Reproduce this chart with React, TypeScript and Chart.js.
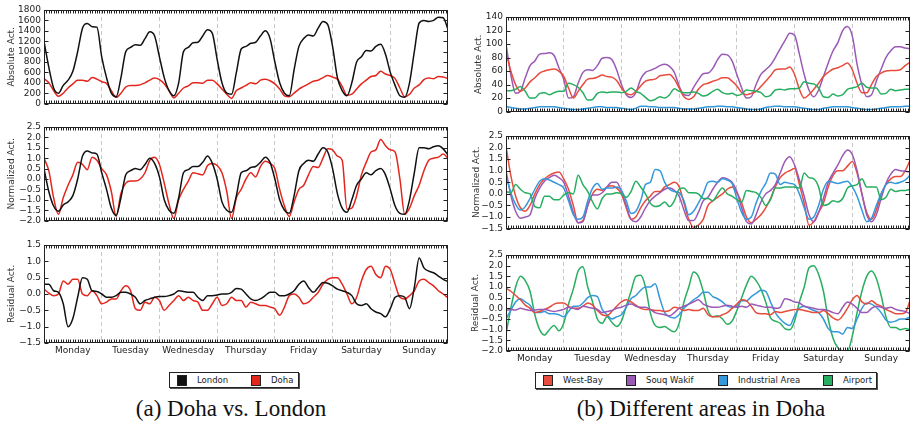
import React, { useEffect, useRef } from "react";
import { Chart, registerables } from "chart.js";

Chart.register(...registerables);

// ---------- labels / ticks ----------
const DAYS = ["Monday", "Tuesday", "Wednesday", "Thursday", "Friday", "Saturday", "Sunday"];
const ABS_LEFT_TICKS = [0, 200, 400, 600, 800, 1000, 1200, 1400, 1600, 1800];
const NORM_LEFT_TICKS = [-2, -1.5, -1, -0.5, 0, 0.5, 1, 1.5, 2, 2.5];
const RES_LEFT_TICKS = [-1.5, -1, -0.5, 0, 0.5, 1, 1.5];
const ABS_RIGHT_TICKS = [0, 20, 40, 60, 80, 100, 120, 140];
const NORM_RIGHT_TICKS = [-1.5, -1, -0.5, 0, 0.5, 1, 1.5, 2, 2.5];
const RES_RIGHT_TICKS = [-2, -1.5, -1, -0.5, 0, 0.5, 1, 1.5, 2, 2.5];

// ---------- data (2-hour steps, 7 days) ----------
const londonAbs = [
  1200, 700, 300, 200, 350, 450, 620, 1000, 1450, 1540, 1480, 1470,
  900, 500, 200, 130, 500, 1000, 1080, 1130, 1120, 1250, 1380, 1300,
  900, 500, 250, 150, 400, 1000, 1080, 1170, 1180, 1300, 1420, 1350,
  850, 400, 200, 180, 600, 1050, 1100, 1160, 1180, 1300, 1400, 1250,
  800, 400, 200, 150, 650, 1100, 1250, 1320, 1300, 1450, 1580, 1520,
  1100, 500, 250, 150, 400, 800, 900, 1020, 1010, 1100, 1140, 950,
  600, 350, 150, 120, 400, 1000, 1550, 1600, 1580, 1600, 1660, 1650, 1430,
];
const dohaAbs = [
  480, 400, 250, 140, 200, 300, 380, 450, 450, 430, 500, 470,
  420, 390, 250, 120, 200, 320, 350, 350, 360, 400, 450, 490,
  460, 380, 250, 110, 200, 300, 340, 400, 400, 390, 450, 450,
  380, 280, 180, 100, 250, 300, 350, 400, 380, 450, 470, 440,
  380, 280, 150, 130, 200, 280, 330, 380, 430, 450, 500, 540,
  510, 470, 330, 160, 180, 280, 380, 450, 520, 540, 620, 570,
  540, 480, 300, 130, 180, 300, 360, 460, 490, 480, 520, 510, 480,
];
const londonNorm = [
  0.5, -0.6, -1.3, -1.55, -1.25, -1.1, -0.8, 0.0, 1.1, 1.35, 1.25, 1.2,
  0.3, -0.5, -1.4, -1.75, -0.9, 0.2, 0.4, 0.5, 0.45, 0.7, 1.0, 0.75,
  0.1, -1.0, -1.5, -1.65, -0.9, 0.3, 0.45, 0.6, 0.6, 0.8, 1.1, 0.75,
  0.0, -1.1, -1.5, -1.6, -0.8, 0.3, 0.4, 0.55, 0.6, 0.8, 1.05, 0.8,
  0.0, -1.0, -1.5, -1.65, -0.8, 0.4, 0.75, 0.9, 0.85, 1.2, 1.5, 1.3,
  0.5, -0.7, -1.4, -1.6, -1.0, -0.3, 0.0, 0.3, 0.2, 0.4, 0.5, 0.2,
  -0.5, -1.3, -1.65, -1.7, -1.0, 0.3, 1.5, 1.5, 1.45, 1.55, 1.6, 1.45, 1.15,
];
const dohaNorm = [
  1.0, 0.4, -0.9, -1.7, -0.9, -0.3, 0.2, 0.8, 0.7, 0.45, 1.05, 0.9,
  0.5, 0.2, -0.6, -1.8, -0.7, -0.2, -0.1, -0.1, 0.0, 0.3, 0.9, 1.05,
  0.7, -0.2, -1.2, -1.9, -1.0, -0.5, -0.1, 0.3, 0.25, 0.2, 0.65, 0.75,
  0.65, 0.3, -0.6, -1.9, -0.9, -0.5, 0.0, 0.3, 0.1, 0.6, 0.85, 0.75,
  0.5, -0.5, -1.3, -1.8, -1.1, -0.5, -0.3, 0.2, 0.6, 0.55, 1.0, 1.45,
  1.4, 1.1, 0.9, -1.45, -1.4, -0.8, 0.2, 0.8, 1.3, 1.4, 1.9, 1.6,
  1.4, 1.3, 0.0, -1.7, -1.4, -0.8, -0.3, 0.4, 0.9, 1.0, 1.05, 1.2, 1.0,
];
const londonRes = [
  0.3, 0.3, 0.1, 0.05, -0.3, -1.0, -0.75, -0.1, 0.5, 0.45, 0.1, 0.08,
  0.0, -0.1, -0.1, -0.05, 0.05, 0.05, 0.0, -0.1, -0.3, -0.2, -0.15, -0.1,
  -0.08, -0.08, -0.05, 0.0, 0.1, 0.08, 0.05, 0.05, -0.1, -0.2, -0.05, -0.05,
  -0.03, 0.0, 0.0, 0.05, 0.17, 0.15, 0.0, -0.15, -0.2, -0.15, -0.05, 0.05,
  0.05, -0.05, -0.05, 0.0, 0.1, 0.3, 0.4, 0.2, 0.05, 0.2, 0.35, 0.33,
  0.25, 0.15, 0.1, 0.05, -0.05, -0.3, -0.35, -0.3, -0.45, -0.55, -0.6, -0.7,
  -0.45, -0.1, -0.05, -0.1, -0.45, 0.2, 1.1, 0.8, 0.7, 0.65, 0.55, 0.45, 0.38,
];
const dohaRes = [
  0.15, 0.03, -0.05, 0.0, 0.4, 0.3, 0.45, 0.45, 0.0, -0.05, 0.1, -0.05,
  -0.3, -0.25, -0.15, -0.15, 0.1, 0.25, 0.1, -0.45, -0.5, -0.25, -0.3, -0.1,
  -0.2, -0.5, -0.35, -0.2, -0.05, -0.2, -0.1, -0.2, -0.25, -0.5, -0.5, -0.3,
  -0.1, -0.35, -0.3, -0.1, -0.2, -0.2, -0.4, -0.25, -0.3, -0.35, -0.35, -0.4,
  -0.45, -0.65, -0.4, -0.05, 0.0, -0.1, -0.3, -0.25, -0.1, 0.05, 0.3, 0.45,
  0.5, 0.5, 0.3, 0.0, -0.3, -0.1, 0.4, 0.75, 0.85, 0.6, 0.5, 0.85,
  0.75, 0.3, -0.1, -0.15, -0.05, 0.1, 0.4, 0.45, 0.35, 0.25, 0.1, 0.0, -0.12,
];

const westBayAbs = [
  88, 60, 40, 30, 35, 44, 50, 57, 60, 62, 63, 60,
  52, 35, 20, 30, 40, 48, 49, 51, 54, 52, 51, 46,
  35, 27, 25, 30, 38, 45, 47, 48, 53, 54, 55, 48,
  35, 22, 18, 22, 33, 40, 42, 45, 47, 50, 50, 45,
  38, 28, 25, 27, 30, 37, 45, 53, 62, 63, 63, 66,
  55, 33, 20, 25, 33, 42, 52, 58, 63, 65, 68, 72,
  62, 42, 28, 28, 40, 52, 57, 60, 61, 61, 62, 68, 73,
];
const souqAbs = [
  100, 55, 27, 30, 50, 68, 75, 85, 86, 87, 83, 65,
  48, 20, 22, 42, 58, 62, 61, 68, 79, 80, 77, 62,
  40, 25, 21, 28, 48, 58, 61, 64, 68, 70, 67, 58,
  38, 25, 24, 36, 47, 56, 57, 64, 77, 85, 84, 75,
  55, 35, 20, 22, 40, 55, 62, 69, 80, 93, 105, 116,
  113, 85, 55, 32, 22, 32, 52, 72, 90, 102, 120, 126,
  112, 70, 40, 22, 25, 45, 63, 80, 90, 96, 96, 94, 93,
];
const industrialAbs = [
  8, 6, 5, 4, 4, 5, 6, 7, 7, 7, 7, 6,
  5, 4, 3, 3, 4, 5, 6, 7, 7, 6, 6, 6,
  5, 4, 3, 5, 8, 8, 7, 7, 6, 6, 6, 6,
  5, 4, 4, 4, 5, 6, 7, 7, 8, 8, 7, 7,
  6, 5, 4, 3, 3, 4, 6, 7, 8, 8, 7, 7,
  7, 6, 5, 4, 3, 3, 5, 6, 7, 7, 7, 7,
  6, 5, 4, 3, 3, 4, 5, 6, 7, 7, 7, 8, 8,
];
const airportAbs = [
  31, 31, 33, 37, 30, 20, 20, 27, 28, 25, 28, 30,
  30, 42, 40, 36, 28, 17, 18, 27, 29, 28, 29, 29,
  28, 30, 35, 30, 27, 21, 16, 18, 22, 20, 25, 34,
  30, 28, 28, 29, 27, 23, 25, 30, 33, 28, 26, 27,
  24, 26, 32, 31, 30, 28, 22, 24, 32, 33, 32, 34,
  34, 35, 44, 42, 41, 35, 22, 21, 26, 23, 25, 33,
  35, 37, 42, 36, 35, 35, 26, 27, 33, 31, 32, 33, 33,
];

const westBayNorm = [
  2.05, 0.8, -0.1, -0.6, -0.75, -0.5, 0.0, 0.4, 0.65, 0.8, 0.9, 0.95,
  0.65, 0.2, -0.5, -1.25, -1.15, -0.5, 0.0, 0.2, 0.15, 0.3, 0.35, 0.25,
  0.0, -0.6, -1.1, -1.0, -0.6, -0.3, -0.1, 0.1, 0.1, 0.3, 0.4, 0.5,
  0.3, -0.4, -1.1, -1.45, -1.35, -1.1, -0.5, -0.3, -0.15, 0.0, 0.2, 0.3,
  0.05, -0.4, -1.0, -1.25, -1.1, -0.9, -0.6, -0.2, 0.3, 0.7, 0.9, 1.0,
  1.1, 0.4, -0.4, -1.35, -1.2, -0.8, -0.4, 0.3, 0.8, 1.0, 1.0, 1.2,
  1.4, 0.9, 0.0, -0.8, -1.1, -0.7, 0.0, 0.4, 0.65, 0.75, 0.75, 1.0, 1.45,
];
const souqNorm = [
  1.0, -0.05, -0.75, -1.05, -1.0, -0.9, -0.2, 0.25, 0.55, 0.7, 0.8, 0.7,
  0.5, -0.1, -0.8, -1.25, -1.2, -0.5, -0.05, -0.05, 0.05, 0.3, 0.5, 0.5,
  0.1, -0.5, -1.1, -1.2, -1.0, -0.6, -0.3, -0.1, 0.05, 0.2, 0.25, 0.15,
  -0.1, -0.7, -1.15, -1.15, -0.8, -0.3, -0.15, 0.2, 0.5, 0.7, 0.65, 0.5,
  0.1, -0.6, -1.2, -1.3, -0.9, -0.35, 0.0, 0.15, 0.4, 0.9, 1.4, 1.6,
  1.25, 0.6, -0.1, -0.9, -1.2, -0.8, -0.2, 0.5, 0.9, 1.25, 1.65, 1.9,
  1.7, 1.0, 0.0, -0.9, -1.2, -0.9, -0.2, 0.45, 0.85, 1.05, 1.0, 0.98, 0.95,
];
const industrialNorm = [
  0.8, 0.05, -0.45, -0.7, -0.55, -0.2, 0.2, 0.55, 0.65, 0.6, 0.5, 0.4,
  0.25, -0.3, -0.9, -1.1, -1.0, -0.3, 0.25, 0.45, 0.2, 0.25, 0.25, 0.3,
  0.15, -0.3, -0.85, -0.75, -0.3, 0.4, 0.5, 1.05, 1.0, 0.5, 0.2, 0.1,
  0.05, -0.3, -0.9, -0.75, -0.4, 0.0, 0.5, 0.55, 0.5, 0.65, 0.6, 0.45,
  -0.2, -0.8, -1.1, -1.0, -0.4, 0.1, 0.45, 0.9, 0.85, 0.4, 0.5, 0.45,
  0.4, 0.0, -0.6, -1.1, -1.0, -0.5, 0.2, 0.55, 0.5, 0.45, 0.5, 0.55,
  0.3, -0.1, -0.7, -1.2, -1.05, -0.5, 0.0, 0.4, 0.5, 0.45, 0.5, 0.6, 0.8,
];
const airportNorm = [
  0.1, 0.05, 0.4, 0.2, 0.05, 0.0, -0.55, -0.6, -0.1, -0.1, -0.25, -0.25,
  -0.05, 0.05, 0.0, 0.8, 0.4, 0.1, -0.35, -0.65, -0.2, 0.0, 0.0, 0.05,
  0.0, -0.15, 0.1, 0.55, 0.3, 0.0, -0.4, -0.55, -0.5, -0.35, -0.55, -0.3,
  0.2, 0.25, 0.05, 0.05, 0.0, -0.2, -0.2, -0.3, 0.0, 0.25, 0.0, -0.1,
  -0.25, -0.35, 0.15, 0.1, 0.05, -0.15, -0.5, -0.25, 0.25, 0.25, 0.3, 0.3,
  0.3, 0.25, 0.9, 0.7, 0.65, 0.3, -0.5, -0.45, -0.3, -0.35, -0.2, 0.25,
  0.35, 0.4, 0.65, 0.3, 0.3, 0.3, -0.25, -0.15, 0.2, 0.1, 0.15, 0.15, 0.2,
];

const westBayRes = [
  0.95, 0.8, 0.6, 0.4, 0.15, 0.0, -0.2, -0.15, -0.05, 0.05, 0.2, 0.25,
  0.25, 0.1, 0.0, 0.0, 0.1, 0.25, 0.15, -0.1, -0.3, -0.35, -0.15, 0.1,
  0.3, 0.4, 0.3, 0.15, 0.0, -0.05, -0.05, -0.1, -0.1, -0.15, -0.1, 0.05,
  0.0, -0.1, -0.05, -0.1, -0.1, 0.0, -0.3, -0.4, -0.4, -0.3, -0.2, 0.0,
  0.2, 0.4, 0.35, 0.1, -0.2, -0.25, -0.25, -0.3, -0.15, -0.2, -0.15, -0.1,
  -0.05, -0.05, -0.1, -0.15, -0.2, -0.2, -0.1, -0.25, -0.45, -0.55, -0.35, 0.0,
  0.4, 0.6, 0.3, 0.2, 0.35, 0.2, 0.1, -0.05, -0.15, -0.25, -0.25, -0.2, 0.35,
];
const souqRes = [
  -0.1, -0.05, -0.08, 0.0, -0.05, -0.1, -0.08, -0.05, -0.05, -0.1, -0.15, -0.1,
  -0.05, 0.05, 0.0, -0.05, 0.1, 0.05, 0.0, -0.05, -0.2, -0.15, -0.1, 0.0,
  0.05, 0.15, 0.2, 0.1, 0.05, 0.05, -0.05, -0.2, -0.25, -0.3, -0.35, -0.2,
  0.0, 0.1, 0.2, 0.3, 0.4, 0.2, 0.1, 0.05, 0.05, 0.1, 0.15, 0.1,
  0.05, 0.1, 0.05, 0.2, 0.15, 0.1, 0.05, 0.05, 0.0, 0.05, 0.45, 0.4,
  0.3, 0.25, 0.1, 0.05, 0.0, -0.05, -0.05, -0.1, -0.2, -0.25, 0.05, 0.3,
  0.2, 0.0, -0.2, -0.2, 0.0, 0.1, 0.05, 0.0, 0.05, -0.05, -0.1, -0.15, -0.25,
];
const industrialRes = [
  -0.5, -0.1, 0.3, 0.45, 0.3, 0.15, -0.2, -0.2, -0.15, -0.25, -0.25, -0.3,
  -0.4, -0.15, 0.1, 0.1, 0.25, 0.5, 0.6, 0.55, -0.05, -0.3, -0.5, -0.4,
  -0.3, 0.05, 0.45, 0.6, 0.85, 1.0, 1.0, 1.15, 0.45, -0.2, -0.4, -0.45,
  -0.3, 0.0, 0.2, 0.4, 0.55, 0.75, 0.75, 0.55, 0.45, 0.3, 0.1, 0.05,
  0.1, 0.35, 0.35, 0.55, 0.7, 0.85, 0.8, 0.3, -0.2, -0.5, -0.7, -0.8,
  -0.35, 0.0, 0.1, 0.0, -0.1, -0.2, -0.5, -0.95, -1.1, -1.1, -1.2, -0.9,
  -0.95, -0.5, 0.0, 0.25, 0.2, 0.05, -0.2, -0.55, -0.65, -0.6, -0.5, -0.5, -0.4,
];
const airportRes = [
  -1.2, 0.0, 1.0, 1.5, 1.3, 0.8, -0.3, -1.0, -1.25, -1.0, -0.8, -1.05,
  -0.7, 0.2, 0.9, 1.75, 1.95, 1.0, 0.3, -0.5, -0.7, -0.4, -0.65, -0.85,
  -0.6, 0.1, 0.8, 1.5, 1.55, 1.0, -0.2, -0.8, -0.9, -0.85, -1.0, -1.1,
  -0.7, 0.3, 1.0, 1.7, 1.5, 0.8, -0.1, -0.4, -0.35, -0.5, -0.75, -0.6,
  -0.1, 0.5, 1.1, 1.5, 1.3, 0.9, 0.3, -0.45, -0.6, -0.7, -0.95, -1.0,
  -0.6, 0.3, 1.0, 1.9, 2.0, 1.6, 0.8, -0.5, -1.4, -1.85, -2.0, -2.0,
  -1.3, -0.2, 0.8, 1.5, 1.75, 1.4, 0.6, -0.4, -0.9, -0.9, -1.0, -0.95, -1.0,
];

// ---------- colours ----------
const C_LONDON = "#111111";
const C_DOHA = "#e3261d";
const C_WEST = "#e74c3c";
const C_SOUQ = "#9b59b6";
const C_IND = "#3498db";
const C_AIR = "#27ae60";

const FONT = "'DejaVu Sans', 'Liberation Sans', sans-serif";
const STEPS_PER_DAY = 12;

type Series = { label: string; data: number[]; color: string };

const toPoints = (arr: number[]) => arr.map((y, i) => ({ x: i / STEPS_PER_DAY, y }));

const fmt = (v: number, dec: number) => {
  const s = Math.abs(v).toFixed(dec);
  return v < 0 ? "\u2212" + s : s;
};

const framePlugin = {
  id: "frame",
  afterDraw(chart: any) {
    const { ctx, chartArea: a } = chart;
    const xs = chart.scales.x;
    const ys = chart.scales.y;
    ctx.save();
    ctx.strokeStyle = "#222";
    ctx.lineWidth = 1;
    const L = Math.round(a.left) + 0.5;
    const R = Math.round(a.right) - 0.5;
    const T = Math.round(a.top) + 0.5;
    const B = Math.round(a.bottom) - 0.5;
    ctx.strokeRect(L, T, R - L, B - T);
    ctx.beginPath();
    for (let h = 1; h < 168; h++) {
      const px = Math.round(xs.getPixelForValue(h / 24)) + 0.5;
      ctx.moveTo(px, T);
      ctx.lineTo(px, T + 3);
      ctx.moveTo(px, B);
      ctx.lineTo(px, B - 3);
    }
    ys.ticks.forEach((t: any) => {
      const py = Math.round(ys.getPixelForValue(t.value)) + 0.5;
      ctx.moveTo(L, py);
      ctx.lineTo(L + 4, py);
      ctx.moveTo(R, py);
      ctx.lineTo(R - 4, py);
    });
    ctx.stroke();
    ctx.restore();
  },
};

type PlotProps = {
  left: number;
  top: number;
  width: number;
  height: number;
  padTop: number;
  padBottom: number;
  padRight: number;
  yAxisW: number;
  titlePad: number;
  ticks: number[];
  dec: number;
  yTitle: string;
  series: Series[];
  showDays: boolean;
};

function Plot(p: PlotProps) {
  const ref = useRef<HTMLCanvasElement | null>(null);
  useEffect(() => {
    if (!ref.current) return;
    const xTickVals: number[] = [];
    for (let d = 0; d < 7; d++) {
      xTickVals.push(d + 0.5);
      if (d < 6) xTickVals.push(d + 1);
    }
    const chart = new Chart(ref.current, {
      type: "line",
      data: {
        datasets: p.series.map((s) => ({
          label: s.label,
          data: toPoints(s.data),
          borderColor: s.color,
          backgroundColor: s.color,
          borderWidth: 1.5,
          pointRadius: 0,
          fill: false,
          cubicInterpolationMode: "monotone" as const,
        })),
      },
      options: {
        animation: false,
        responsive: false,
        maintainAspectRatio: false,
        devicePixelRatio: 1,
        layout: { padding: { left: 0, right: p.padRight, top: p.padTop, bottom: p.padBottom } },
        plugins: { legend: { display: false }, tooltip: { enabled: false } },
        scales: {
          x: {
            type: "linear",
            min: 0,
            max: 7,
            afterBuildTicks: (s: any) => {
              s.ticks = xTickVals.map((v) => ({ value: v }));
            },
            afterFit: (s: any) => {
              s.height = p.showDays ? 16 : 0;
            },
            ticks: {
              display: p.showDays,
              autoSkip: false,
              maxRotation: 0,
              minRotation: 0,
              padding: 2,
              color: "#222",
              font: { family: FONT, size: 9 },
              callback: (v: any) => {
                const d = Number(v) - 0.5;
                return Number.isInteger(d) ? DAYS[d] : "";
              },
            },
            grid: {
              drawTicks: false,
              lineWidth: 1,
              color: (c: any) =>
                c.tick && Number.isInteger(c.tick.value) ? "#c9c9c9" : "rgba(0,0,0,0)",
            },
            border: { display: false, dash: [4, 3] },
          },
          y: {
            type: "linear",
            min: p.ticks[0],
            max: p.ticks[p.ticks.length - 1],
            afterBuildTicks: (s: any) => {
              s.ticks = p.ticks.map((v) => ({ value: v }));
            },
            afterFit: (s: any) => {
              s.width = p.yAxisW;
            },
            ticks: {
              autoSkip: false,
              padding: 3,
              color: "#222",
              font: { family: FONT, size: 9 },
              callback: (v: any) => fmt(Number(v), p.dec),
            },
            grid: { display: false, drawTicks: false },
            border: { display: false },
            title: {
              display: true,
              text: p.yTitle,
              color: "#333",
              font: { family: FONT, size: 9 },
              padding: { top: p.titlePad, bottom: 0 },
            },
          },
        },
      } as any,
      plugins: [framePlugin],
    });
    return () => chart.destroy();
  }, []);
  return (
    <canvas
      ref={ref}
      width={p.width}
      height={p.height}
      style={{ position: "absolute", left: p.left, top: p.top, width: p.width, height: p.height }}
    />
  );
}

const LEFT_ABS: Series[] = [
  { label: "London", data: londonAbs, color: C_LONDON },
  { label: "Doha", data: dohaAbs, color: C_DOHA },
];
const LEFT_NORM: Series[] = [
  { label: "London", data: londonNorm, color: C_LONDON },
  { label: "Doha", data: dohaNorm, color: C_DOHA },
];
const LEFT_RES: Series[] = [
  { label: "London", data: londonRes, color: C_LONDON },
  { label: "Doha", data: dohaRes, color: C_DOHA },
];
const RIGHT_ABS: Series[] = [
  { label: "Airport", data: airportAbs, color: C_AIR },
  { label: "Industrial Area", data: industrialAbs, color: C_IND },
  { label: "West-Bay", data: westBayAbs, color: C_WEST },
  { label: "Souq Wakif", data: souqAbs, color: C_SOUQ },
];
const RIGHT_NORM: Series[] = [
  { label: "Airport", data: airportNorm, color: C_AIR },
  { label: "Industrial Area", data: industrialNorm, color: C_IND },
  { label: "Souq Wakif", data: souqNorm, color: C_SOUQ },
  { label: "West-Bay", data: westBayNorm, color: C_WEST },
];
const RIGHT_RES: Series[] = [
  { label: "Souq Wakif", data: souqRes, color: C_SOUQ },
  { label: "West-Bay", data: westBayRes, color: C_WEST },
  { label: "Industrial Area", data: industrialRes, color: C_IND },
  { label: "Airport", data: airportRes, color: C_AIR },
];

function LegendItem({ x, color, text }: { x: number; color: string; text: string }) {
  return (
    <>
      <div
        style={{
          position: "absolute",
          left: x,
          top: 2,
          width: 8,
          height: 9,
          background: color,
          border: "1px solid #222",
        }}
      />
      <div
        style={{
          position: "absolute",
          left: x + 20,
          top: 0,
          height: 14,
          lineHeight: "14px",
          fontFamily: FONT,
          fontSize: 8.5,
          color: "#222",
          whiteSpace: "nowrap",
        }}
      >
        {text}
      </div>
    </>
  );
}

const CAPTION_STYLE: React.CSSProperties = {
  position: "absolute",
  top: 396,
  textAlign: "center",
  fontFamily: "'Liberation Serif', 'Times New Roman', serif",
  fontSize: 23,
  lineHeight: "26px",
  color: "#111",
  whiteSpace: "nowrap",
};

export default function App() {
  return (
    <div
      style={{
        position: "absolute",
        left: 0,
        top: 0,
        width: 913,
        height: 427,
        background: "#fff",
        overflow: "hidden",
      }}
    >
      {/* Left panel */}
      <Plot left={0} top={0} width={456} height={112} padTop={10} padBottom={5} padRight={8} yAxisW={44}
        titlePad={6} ticks={ABS_LEFT_TICKS} dec={0} yTitle="Absolute Act." series={LEFT_ABS} showDays={false} />
      <Plot left={0} top={117} width={456} height={112} padTop={10} padBottom={5} padRight={8} yAxisW={44}
        titlePad={6} ticks={NORM_LEFT_TICKS} dec={1} yTitle="Normalized Act." series={LEFT_NORM} showDays={false} />
      <Plot left={0} top={235} width={456} height={126} padTop={10} padBottom={2} padRight={8} yAxisW={44}
        titlePad={6} ticks={RES_LEFT_TICKS} dec={1} yTitle="Residual Act." series={LEFT_RES} showDays={true} />

      {/* Right panel */}
      <Plot left={462} top={7} width={451} height={113} padTop={10} padBottom={5} padRight={3} yAxisW={44}
        titlePad={11} ticks={ABS_RIGHT_TICKS} dec={0} yTitle="Absolute Act." series={RIGHT_ABS} showDays={false} />
      <Plot left={462} top={126} width={451} height={111} padTop={10} padBottom={5} padRight={3} yAxisW={44}
        titlePad={9} ticks={NORM_RIGHT_TICKS} dec={1} yTitle="Normalized Act." series={RIGHT_NORM} showDays={false} />
      <Plot left={462} top={245} width={451} height={124} padTop={10} padBottom={2} padRight={3} yAxisW={44}
        titlePad={8} ticks={RES_RIGHT_TICKS} dec={1} yTitle="Residual Act." series={RIGHT_RES} showDays={true} />

      {/* Legends */}
      <div
        style={{
          position: "absolute",
          left: 169,
          top: 372,
          width: 128,
          height: 14,
          border: "1px solid #222",
          boxShadow: "1px 1px 0 #555",
          background: "#fff",
        }}
      >
        <LegendItem x={7} color={C_LONDON} text="London" />
        <LegendItem x={81} color={C_DOHA} text="Doha" />
      </div>
      <div
        style={{
          position: "absolute",
          left: 535,
          top: 372,
          width: 340,
          height: 15,
          border: "1px solid #222",
          boxShadow: "1px 1px 0 #555",
          background: "#fff",
        }}
      >
        <LegendItem x={7} color={C_WEST} text="West-Bay" />
        <LegendItem x={90} color={C_SOUQ} text="Souq Wakif" />
        <LegendItem x={182} color={C_IND} text="Industrial Area" />
        <LegendItem x={287} color={C_AIR} text="Airport" />
      </div>

      {/* Captions */}
      <div style={{ ...CAPTION_STYLE, left: 81, width: 300 }}>(a) Doha vs. London</div>
      <div style={{ ...CAPTION_STYLE, left: 520, width: 362 }}>(b) Different areas in Doha</div>
    </div>
  );
}
